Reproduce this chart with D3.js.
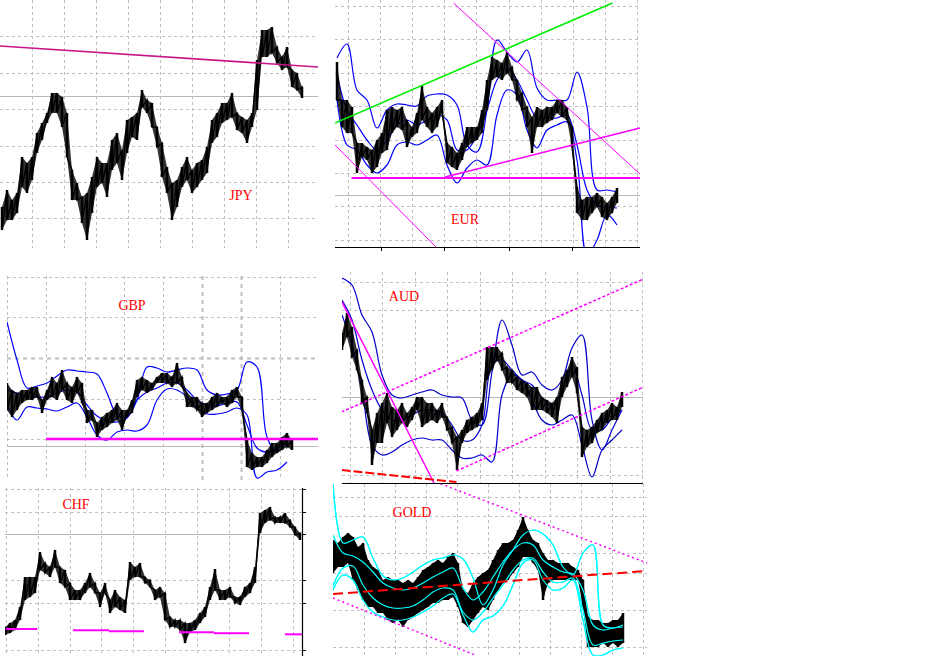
<!DOCTYPE html>
<html>
<head>
<meta charset="utf-8">
<script src="https://cdn.jsdelivr.net/npm/d3@7"></script>
<style>
  body { margin: 0; background: #fff; }
  svg { display: block; }
</style>
</head>
<body>
<svg id="chart" width="949" height="656"></svg>
<script>
// ---------- JPY: bar ranges (low / high) in level units ----------
const jpyLow  = [20,30,30,37,63,57,70,97,110,127, 137,137,123,93,50,50,27,10,37,63, 67,53,80,87,70,97,113,110,143,137, 123,103,73,57,30,43,63,70,57,63, 70,77,107,113,127,130,133,120,117,107, 123,140,193,193,197,187,180,183,163,160, 152];
const jpyHigh = [43,60,50,57,93,87,93,117,127,137, 157,157,153,137,80,67,53,57,73,93, 87,87,110,117,100,130,133,137,160,150, 147,123,107,83,67,70,83,93,80,87, 90,103,130,137,147,147,157,137,133,130, 137,190,220,220,223,203,193,203,180,177, 163];
const jpyRef = 154;
const jpyTrend = [[-0.4, 204], [63.2, 183]];

// ---------- EUR ----------
const eurLow  = [147,120,114,114,74,90,87,74,80,94, 97,114,120,117,100,110,114,127,120,114, 120,134,84,80,77,87,100,104,107,114, 137,167,170,167,174,167,147,137,120,94, 120,120,124,127,134,130,127,100,34,27, 27,34,40,30,27,34,44];
const eurHigh = [185,147,147,140,104,104,100,97,107,114, 137,140,137,140,127,120,134,161,140,134, 140,147,104,100,94,104,120,120,120,137, 167,190,187,184,195,180,167,154,140,130, 140,137,140,140,147,147,140,120,60,47, 50,50,54,50,44,50,59];
const eurUpper  = [189,203,157,147,119,137,143,142,141,151, 153,152,142,102,95,137,207,195,185,197, 159,147,147,147,175,140,57,57,55];
const eurMiddle = [172,137,122,107,97,107,122,127,122,127, 132,127,97,97,112,137,167,179,167,147, 129,129,129,132,102,57,42,40,39];
const eurLower  = [147,102,97,82,74,82,102,105,102,107, 112,82,64,79,87,82,132,157,152,117, 99,117,122,125,87,-8,7,32,22];
const eurRef = 52;
const eurGreen   = [[-0.4, 124], [55.1, 244]];
const eurFall    = [[23.3, 244], [60.6, 73]];
const eurFallLow = [[-0.4, 102], [19.8, 0]];
const eurFloor   = [[2.9, 69], [60.6, 69]];
const eurRise    = [[21.6, 70], [60.6, 119]];
const eurTicks   = [8.8, 21.4, 34.4, 47];

// ---------- GBP ----------
const gbpLow  = [70,63,70,77,80,80,83,67,80,83, 80,90,80,77,87,77,57,60,43,50, 53,57,60,50,63,67,83,90,87,90, 97,97,97,93,97,93,73,73,70,63, 67,70,73,77,73,77,83,70,13,10, 13,13,17,23,27,30,33,30];
const gbpHigh = [97,90,87,90,90,93,93,80,90,103, 97,110,97,93,103,97,70,70,57,63, 67,70,77,70,70,80,100,103,100,97, 103,107,107,103,117,103,87,83,83,77, 77,83,87,83,83,90,93,83,40,27, 23,23,30,37,37,43,47,40];
const gbpUpper  = [158,120,92,94,97,104,110,109,108,106, 87,65,63,80,113,112,108,110,112,110, 90,85,86,90,118,113,43,28,43];
const gbpMiddle = [90,87,83,83,83,87,90,88,75,64, 59,58,62,80,88,92,97,97,90,80, 75,74,77,78,55,32,28,32,37];
const gbpLower  = [75,60,73,72,71,69,73,77,63,45, 40,48,50,49,55,80,91,90,83,72, 66,66,68,72,65,2,8,10,18];
const gbpRef = 34;
const gbpFloor = [[7.8, 41], [62.2, 41]];

// ---------- AUD ----------
const audLow  = [133,146,126,113,80,70,18,40,40,60, 46,53,60,56,63,73,56,60,63,60, 66,53,40,13,40,50,53,56,63,103, 113,123,113,100,100,93,90,86,73,73, 73,70,66,60,86,96,106,90,26,36, 40,50,53,60,63,63,76];
const audHigh = [150,170,156,133,103,86,53,70,80,90, 76,73,80,70,76,86,86,80,80,73, 80,66,56,46,53,63,66,70,80,136, 136,136,130,116,113,106,103,100,96,96, 86,83,80,86,106,113,126,116,56,53, 56,63,70,73,80,76,91];
const audUpper  = [205,198,168,151,108,88,85,88,91,93, 88,86,85,63,58,111,163,138,108,111, 98,93,103,135,148,63,33,53,73];
const audMiddle = [183,163,123,93,73,63,63,68,73,73, 70,58,43,43,58,118,123,113,103,98, 85,78,93,118,88,53,53,65,73];
const audLower  = [168,138,93,38,28,31,38,43,45,43, 43,33,25,25,28,21,88,108,103,83, 63,58,63,68,38,6,33,43,53];
const audRef = 86;
const audFall       = [[0, 181], [18.4, 0]];
const audChannelUp  = [[-0.1, 71], [60.3, 204]];
const audChannelLow = [[22.9, 12], [60.3, 96]];
const audRed        = [[-0.1, 13], [22.9, 1]];

// ---------- CHF ----------
const chfLow  = [21,23,26,36,56,59,63,86,83,79, 89,73,69,56,56,56,63,69,63,49, 63,43,49,46,43,76,79,79,73,69, 56,59,36,29,29,26,13,24,26,33, 39,56,66,56,56,59,53,51,59,63, 73,123,133,136,133,133,133,129,121,116];
const chfHigh = [29,33,36,49,79,79,79,104,93,89, 106,89,86,73,66,66,73,83,73,63, 73,56,66,59,56,94,89,93,79,76, 66,69,63,39,36,36,33,33,36,43, 49,69,87,66,66,69,59,59,69,73, 89,143,146,149,139,139,143,136,129,123];
const chfRef = 122;
const chfSupports = [[0.14, 6.46, 27], [13.6, 20.8, 25.7], [20.8, 27.8, 24.7], [34.8, 41.8, 23.7], [41.8, 48.8, 22.7], [56, 59.4, 21.7]];
const chfAxisTicks = [167, 144.3, 122, 76, 52.7, 6];

// ---------- GOLD ----------
const goldLow  = [83,89,89,93,76,66,56,49,49,43, 43,36,33,36,29,36,39,43,46,49, 53,53,56,56,59,49,33,29,36,43, 49,46,56,66,73,76,83,89,99,99, 93,86,56,73,76,76,76,76,76,76, 49,9,9,9,13,9,13,9,13];
const goldHigh = [116,113,119,123,119,109,113,96,89,86, 76,79,76,76,73,76,73,79,86,89, 93,96,93,99,103,93,66,63,73,79, 83,86,96,106,113,113,116,126,139,126, 116,113,103,96,96,93,93,93,89,86, 76,39,36,36,33,33,36,36,43];
const goldOuterUp  = [173,113,116,119,98,80,76,78,84,91, 96,98,101,97,78,51,66,91,106,121, 126,122,111,89,81,103,111,31,28,31];
const goldInnerUp  = [121,103,100,94,84,73,68,66,68,73, 79,84,88,68,56,64,79,94,106,113, 111,96,89,84,82,66,31,26,28,29];
const goldInnerLow = [70,88,90,71,58,51,48,48,50,56, 64,68,66,44,36,44,58,71,86,96, 98,84,74,74,78,46,11,13,15,16];
const goldOuterLow = [66,81,76,56,44,39,36,36,39,44, 50,58,62,41,24,36,40,50,71,93, 96,76,66,68,76,36,1,1,6,8];
const goldFallUp  = [[20.6, 174], [62.8, 93]];
const goldFallLow = [[0, 58], [28.4, 1]];
const goldRed     = [[0, 62], [62.7, 85]];

// ---------- panel layout ----------
const GRID = '#c0c0c0';
const panels = [
  { id: 'jpy', label: 'JPY', labelAt: [241, 200],
    box: [0, 0, 318, 250], bars: [2, 302], bottom: 250, height: 250,
    vGrid: d3.range(31.7, 300, 32), vSpan: [0, 248],
    hGrid: d3.range(36.3, 230, 36.4), hSpan: [0, 318],
    low: jpyLow, high: jpyHigh, ref: jpyRef, refSpan: [0, 318], fillOpacity: 0.8,
    bands: [],
    lines: [{ pts: jpyTrend, color: '#c71585', width: 1.6 }] },
  { id: 'eur', label: 'EUR', labelAt: [465, 224],
    box: [335, 0, 306, 248], bars: [337, 617], bottom: 247, height: 247,
    vGrid: d3.range(348.3, 645, 32.04), vSpan: [0, 247],
    hGrid: d3.range(6, 245, 33.4), hSpan: [335, 640],
    low: eurLow, high: eurHigh, ref: eurRef, refSpan: [335, 640], fillOpacity: 0.8,
    bands: [
      { values: eurUpper, color: '#0000ff' },
      { values: eurMiddle, color: '#0000ff' },
      { values: eurLower, color: '#0000ff' } ],
    lines: [
      { pts: eurGreen, color: '#00ee00', width: 1.5 },
      { pts: eurFall, color: '#ff00ff', width: 1 },
      { pts: eurFallLow, color: '#ff00ff', width: 1 },
      { pts: eurFloor, color: '#ff00ff', width: 2 },
      { pts: eurRise, color: '#ff00ff', width: 1.5 } ],
    axis: { span: [335, 640], ticks: eurTicks } },
  { id: 'gbp', label: 'GBP', labelAt: [132, 310],
    box: [7, 276, 311, 204], bars: [7, 292], bottom: 480, height: 204,
    vGrid: d3.range(7.3, 300, 38.95), vSpan: [276, 480], thickV: [5, 6],
    hGrid: d3.range(276.7, 445, 40.6), hSpan: [7, 318], thickH: [2],
    low: gbpLow, high: gbpHigh, ref: gbpRef, refSpan: [7, 318], fillOpacity: 0.8,
    bands: [
      { values: gbpUpper, color: '#0000ff' },
      { values: gbpMiddle, color: '#0000ff' },
      { values: gbpLower, color: '#0000ff' } ],
    lines: [{ pts: gbpFloor, color: '#ff00ff', width: 2.5 }] },
  { id: 'aud', label: 'AUD', labelAt: [404, 301],
    box: [342, 272, 302, 212], bars: [342, 622], bottom: 483, height: 211,
    vGrid: d3.range(350, 645, 32.48), vSpan: [272, 483],
    hGrid: [281.7, 310, 447.3, 475], hSpan: [342, 643],
    low: audLow, high: audHigh, ref: audRef, refSpan: [342, 643], fillOpacity: 0.8,
    bands: [
      { values: audUpper, color: '#0000cc' },
      { values: audMiddle, color: '#0000cc' },
      { values: audLower, color: '#0000cc' } ],
    lines: [
      { pts: audFall, color: '#ff00ff', width: 1.5 },
      { pts: audChannelUp, color: '#ff00ff', width: 1.5, dash: '3,2' },
      { pts: audChannelLow, color: '#ff00ff', width: 1.5, dash: '3,2' },
      { pts: audRed, color: '#ff0000', width: 2, dash: '9,3' } ],
    axis: { span: [342, 643], ticks: [] } },
  { id: 'chf', label: 'CHF', labelAt: [76, 509],
    box: [5, 488, 298, 168], bars: [5, 300], bottom: 656, height: 168,
    vGrid: d3.range(5.7, 300, 31.9), vSpan: [488, 656],
    hGrid: [489, 511.7, 580, 603.3, 650], hSpan: [5, 302],
    low: chfLow, high: chfHigh, ref: chfRef, refSpan: [5, 302], fillOpacity: 0.8,
    bands: [], lines: [], supports: chfSupports,
    rightAxis: { x: 302, span: [488, 656], ticks: chfAxisTicks } },
  { id: 'gold', label: 'GOLD', labelAt: [412, 517],
    box: [333, 484, 315, 172], bars: [333, 623], bottom: 656, height: 173,
    vGrid: d3.range(364.3, 648, 30.95), vSpan: [484, 656],
    hGrid: [497, 516, 553, 573, 610, 647], hSpan: [333, 647],
    low: goldLow, high: goldHigh, fillOpacity: 1, bandsOnTop: true,
    bands: [
      { values: goldOuterUp, color: '#00ffff' },
      { values: goldInnerUp, color: '#00ffff' },
      { values: goldInnerLow, color: '#00ffff' },
      { values: goldOuterLow, color: '#00ffff' } ],
    lines: [
      { pts: goldFallUp, color: '#ff00ff', width: 1.5, dash: '2,3' },
      { pts: goldFallLow, color: '#ff00ff', width: 1.5, dash: '2,3' },
      { pts: goldRed, color: '#ff0000', width: 2, dash: '10,5' } ] }
];

const svg = d3.select('#chart');
const defs = svg.append('defs');

function drawPanel(p) {
  const [bx, by, bw, bh] = p.box;
  defs.append('clipPath').attr('id', 'clip-' + p.id)
    .append('rect').attr('x', bx).attr('y', by).attr('width', bw).attr('height', bh);

  const x = d3.scaleLinear().domain([0, p.low.length - 1]).range(p.bars);
  const y = d3.scaleLinear().domain([0, p.height]).range([p.bottom, p.bottom - p.height]);

  const root = svg.append('g').attr('class', 'panel-' + p.id);
  const g = root.append('g').attr('clip-path', `url(#clip-${p.id})`);

  // dashed grid
  g.append('g').selectAll('line').data(p.vGrid).join('line')
    .attr('x1', d => Math.round(d) + 0.5).attr('x2', d => Math.round(d) + 0.5)
    .attr('y1', p.vSpan[0]).attr('y2', p.vSpan[1])
    .attr('stroke', GRID)
    .attr('stroke-width', (d, i) => (p.thickV || []).includes(i) ? 2 : 1)
    .attr('stroke-dasharray', (d, i) => (p.thickV || []).includes(i) ? '4,4' : '3,3');
  g.append('g').selectAll('line').data(p.hGrid).join('line')
    .attr('y1', d => Math.round(d) + 0.5).attr('y2', d => Math.round(d) + 0.5)
    .attr('x1', p.hSpan[0]).attr('x2', p.hSpan[1])
    .attr('stroke', GRID)
    .attr('stroke-width', (d, i) => (p.thickH || []).includes(i) ? 2 : 1)
    .attr('stroke-dasharray', (d, i) => (p.thickH || []).includes(i) ? '4,4' : '3,3');

  // reference price line
  if (p.ref !== undefined) {
    g.append('line')
      .attr('x1', p.refSpan[0]).attr('x2', p.refSpan[1])
      .attr('y1', Math.round(y(p.ref)) + 0.5).attr('y2', Math.round(y(p.ref)) + 0.5)
      .attr('stroke', '#b8b8b8').attr('stroke-width', 1.2);
  }

  // envelope bands, sampled every second bar
  const bandLine = d3.line().x((d, i) => x(i * 2)).y(d => y(d))
    .curve(d3.curveCatmullRom.alpha(0.5));
  const drawBands = () => p.bands.forEach(b => {
    g.append('path').attr('d', bandLine(b.values))
      .attr('fill', 'none').attr('stroke', b.color).attr('stroke-width', 1.2);
  });
  drawBands();

  // price: filled low-high range, vertical bar ranges and a jagged trace
  const area = d3.area().x((d, i) => x(i)).y0((d, i) => y(p.low[i])).y1(d => y(d));
  g.append('path').attr('d', area(p.high))
    .attr('fill', '#000').attr('fill-opacity', p.fillOpacity);
  g.append('g').selectAll('line').data(p.low).join('line')
    .attr('x1', (d, i) => x(i)).attr('x2', (d, i) => x(i))
    .attr('y1', d => y(d)).attr('y2', (d, i) => y(p.high[i]))
    .attr('stroke', '#000').attr('stroke-width', 2.5);
  const zig = [];
  p.low.forEach((lo, i) => { zig.push([i, p.high[i]]); zig.push([i, lo]); });
  const zigLine = d3.line().x(d => x(d[0])).y(d => y(d[1]));
  g.append('path').attr('d', zigLine(zig))
    .attr('fill', 'none').attr('stroke', '#000').attr('stroke-width', 1.4);

  // envelopes of the dense series stay visible above the price
  if (p.bandsOnTop) drawBands();

  // trend lines
  const seg = d3.line().x(d => x(d[0])).y(d => y(d[1]));
  p.lines.forEach(l => {
    g.append('path').attr('d', seg(l.pts))
      .attr('fill', 'none').attr('stroke', l.color).attr('stroke-width', l.width)
      .attr('stroke-dasharray', l.dash || null);
  });

  // short support levels
  if (p.supports) {
    g.append('g').selectAll('line').data(p.supports).join('line')
      .attr('x1', d => x(d[0])).attr('x2', d => x(d[1]))
      .attr('y1', d => y(d[2])).attr('y2', d => y(d[2]))
      .attr('stroke', '#ff00ff').attr('stroke-width', 2);
  }

  // bottom axis
  if (p.axis) {
    root.append('line').attr('x1', p.axis.span[0]).attr('x2', p.axis.span[1])
      .attr('y1', Math.round(y(0)) + 0.5).attr('y2', Math.round(y(0)) + 0.5)
      .attr('stroke', '#000').attr('stroke-width', 1.2);
    root.append('g').selectAll('line').data(p.axis.ticks).join('line')
      .attr('x1', d => Math.round(x(d)) + 0.5).attr('x2', d => Math.round(x(d)) + 0.5)
      .attr('y1', y(0)).attr('y2', y(0) + 4)
      .attr('stroke', '#000');
  }

  // right price axis
  if (p.rightAxis) {
    const ra = p.rightAxis;
    root.append('line').attr('x1', ra.x + 0.5).attr('x2', ra.x + 0.5)
      .attr('y1', ra.span[0]).attr('y2', ra.span[1])
      .attr('stroke', '#000').attr('stroke-width', 1.2);
    root.append('g').selectAll('line').data(ra.ticks).join('line')
      .attr('x1', ra.x).attr('x2', ra.x + 4)
      .attr('y1', d => Math.round(y(d)) + 0.5).attr('y2', d => Math.round(y(d)) + 0.5)
      .attr('stroke', '#000');
  }

  // symbol label
  root.append('text')
    .attr('x', p.labelAt[0]).attr('y', p.labelAt[1])
    .attr('text-anchor', 'middle')
    .attr('font-family', '"Liberation Serif", "DejaVu Serif", serif')
    .attr('font-size', 14).attr('fill', '#ff0000')
    .text(p.label);
}

panels.forEach(drawPanel);
</script>
</body>
</html>
